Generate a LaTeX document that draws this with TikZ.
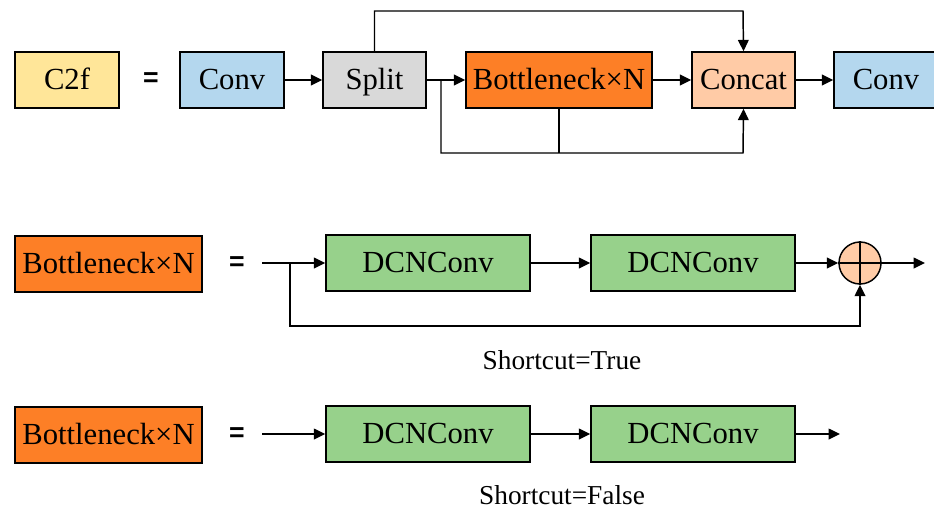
\documentclass[tikz,border=0pt]{standalone}
\usepackage{fontspec}
\setmainfont{Liberation Serif}
\newfontfamily\eqfont{Liberation Sans}
\usetikzlibrary{arrows.meta}
\definecolor{cyellow}{HTML}{FFE699}
\definecolor{cblue}{HTML}{B4D7EE}
\definecolor{cgray}{HTML}{D9D9D9}
\definecolor{corange}{HTML}{FD7F26}
\definecolor{cpeach}{HTML}{FFCBA6}
\definecolor{cgreen}{HTML}{97D18B}
\begin{document}
\begin{tikzpicture}[x=0.75pt,y=-0.75pt,
  blk/.style={draw, line width=1.1pt, inner sep=0pt, minimum height=42pt,
    text height=18pt, text depth=4.5pt,
    font=\fontsize{23}{27}\selectfont},
  eqsign/.style={font=\eqfont\bfseries\fontsize{20}{24}\selectfont, inner sep=0pt},
  lbl/.style={font=\fontsize{20.5}{24}\selectfont, inner sep=0pt},
  ln/.style={line width=1.1pt},
  arr/.style={line width=1.1pt, -{Triangle[length=8.5pt,width=8pt]}}]
\useasboundingbox (0,0) rectangle (934,511);
\clip (0,0) rectangle (934,511);
% row 1
\node[blk, fill=cyellow, minimum width=78pt] (c2f) at (67,80) {C2f};
\node[eqsign] (eq1) at (151,80) {=};
\node[blk, fill=cblue, minimum width=78pt] (conv1) at (232,80) {Conv};
\node[blk, fill=cgray, minimum width=77.25pt] (split) at (374.5,80) {Split};
\node[blk, fill=corange, minimum width=139.5pt] (bn) at (559,80) {Bottleneck×N};
\node[blk, fill=cpeach, minimum width=77.25pt] (concat) at (743.5,80) {Concat};
\node[blk, fill=cblue, minimum width=78pt] (conv2) at (886,80) {Conv};
\draw[arr] (conv1) -- (split);
\draw[arr] (split) -- (bn);
\draw[arr] (bn) -- (concat);
\draw[arr] (concat) -- (conv2);
\coordinate (sb) at (441,80);
\draw[arr] (sb) |- (743,153) -- (concat.south);
\draw[ln] (bn.south) -- (559,153);
\draw[arr] (split.north) |- (743,11) -- (concat.north);
% row 2
\node[blk, fill=corange, minimum width=140.25pt] (bn2) at (108.5,264) {Bottleneck×N};
\node[eqsign] (eq2) at (237,264) {=};
\node[blk, fill=cgreen, minimum width=153pt] (d1) at (428,263) {DCNConv};
\node[blk, fill=cgreen, minimum width=153pt] (d2) at (693,263) {DCNConv};
\node[circle, draw, line width=1.1pt, fill=cpeach, minimum size=31.5pt, inner sep=0pt] (add) at (860,263) {};
\draw[ln] (add.north) -- (add.south) (add.west) -- (add.east);
\coordinate (in2) at (262,263);
\coordinate (br2) at (290,263);
\coordinate (out2) at (925,263);
\draw[arr] (in2) -- (d1);
\draw[arr] (d1) -- (d2);
\draw[arr] (d2) -- (add);
\draw[arr] (add) -- (out2);
\draw[arr] (br2) |- (860,326) -- (add.south);
\node[lbl] (t1) at (562,360) {Shortcut=True};
% row 3
\node[blk, fill=corange, minimum width=140.25pt] (bn3) at (108.5,435) {Bottleneck×N};
\node[eqsign] (eq3) at (237,435) {=};
\node[blk, fill=cgreen, minimum width=153pt] (d3) at (428,434) {DCNConv};
\node[blk, fill=cgreen, minimum width=153pt] (d4) at (693,434) {DCNConv};
\coordinate (in3) at (262,434);
\coordinate (out3) at (840,434);
\draw[arr] (in3) -- (d3);
\draw[arr] (d3) -- (d4);
\draw[arr] (d4) -- (out3);
\node[lbl] (t2) at (562,495) {Shortcut=False};
\end{tikzpicture}
\end{document}
